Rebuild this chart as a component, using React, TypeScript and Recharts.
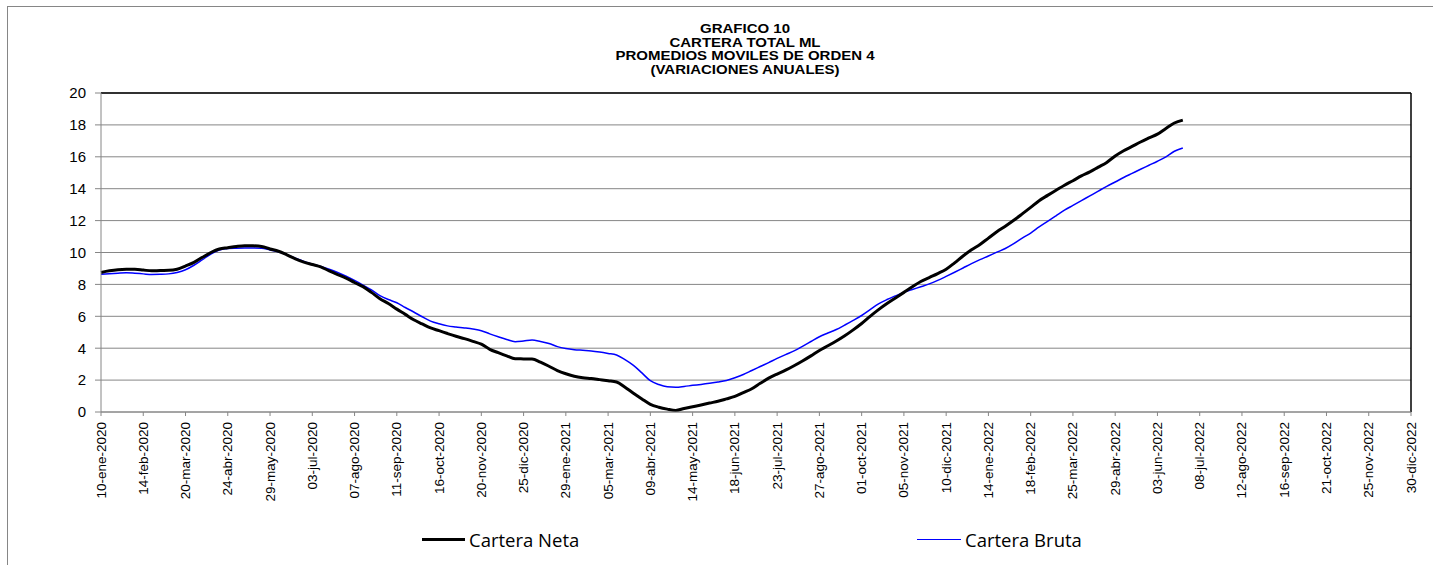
import React from "react";
import { CartesianGrid, Line, LineChart, ReferenceLine, XAxis, YAxis } from "recharts";

// weekly observations, starting 10-ene-2020
const neta = [
  8.75, 8.85, 8.92, 8.95, 8.95, 8.9, 8.85, 8.87, 8.88, 8.95,
  9.15, 9.38, 9.7, 10.0, 10.22, 10.3, 10.38, 10.43, 10.42, 10.38,
  10.22, 10.08, 9.85, 9.6, 9.4, 9.25, 9.1, 8.85, 8.62, 8.4,
  8.12, 7.86, 7.5, 7.1, 6.8, 6.45, 6.12, 5.78, 5.52, 5.27,
  5.1, 4.92, 4.75, 4.6, 4.43, 4.25, 3.93, 3.72, 3.52, 3.34,
  3.33, 3.32, 3.12, 2.87, 2.6, 2.4, 2.24, 2.15, 2.1, 2.03,
  1.96, 1.88, 1.55, 1.18, 0.82, 0.48, 0.3, 0.18, 0.1, 0.22,
  0.33, 0.44, 0.56, 0.67, 0.82, 0.98, 1.22, 1.46, 1.8, 2.12,
  2.38, 2.62, 2.9, 3.2, 3.52, 3.86, 4.15, 4.45, 4.78, 5.15,
  5.55, 6.0, 6.42, 6.8, 7.15, 7.5, 7.85, 8.18, 8.43, 8.68,
  8.95, 9.35, 9.78, 10.17, 10.5, 10.9, 11.3, 11.65, 12.02, 12.42,
  12.83, 13.25, 13.58, 13.9, 14.22, 14.5, 14.8, 15.05, 15.35, 15.65,
  16.05, 16.38, 16.65, 16.93, 17.18, 17.42, 17.78, 18.12, 18.3,
];

const bruta = [
  8.63, 8.66, 8.7, 8.73, 8.7, 8.66, 8.62, 8.63, 8.66, 8.75,
  8.92, 9.2, 9.55, 9.9, 10.15, 10.25, 10.27, 10.28, 10.28, 10.26,
  10.16, 10.05, 9.85, 9.64, 9.44, 9.27, 9.12, 8.95, 8.75, 8.52,
  8.25, 7.96, 7.65, 7.3, 7.05, 6.85, 6.55, 6.27, 5.97, 5.7,
  5.53, 5.4, 5.33, 5.27, 5.2, 5.1, 4.9, 4.72, 4.55, 4.41,
  4.45, 4.51, 4.42, 4.3, 4.1, 3.98, 3.91, 3.87, 3.83, 3.76,
  3.67, 3.57, 3.28, 2.92, 2.45, 1.96, 1.72, 1.58, 1.55, 1.6,
  1.67, 1.73, 1.8, 1.88, 1.98, 2.15, 2.35, 2.6, 2.85, 3.1,
  3.36, 3.6, 3.83, 4.12, 4.42, 4.72, 4.95, 5.17, 5.45, 5.74,
  6.05, 6.42, 6.78, 7.05, 7.28, 7.5, 7.68, 7.85, 8.03, 8.25,
  8.5, 8.76, 9.03, 9.3, 9.55, 9.78, 10.02, 10.25, 10.55, 10.9,
  11.22, 11.6, 11.95, 12.3, 12.65, 12.95, 13.25, 13.55, 13.85, 14.15,
  14.42, 14.7, 14.96, 15.22, 15.47, 15.72, 16.0, 16.35, 16.55,
];

// one label every 5 weeks
const tickLabels = [
  "10-ene-2020", "14-feb-2020", "20-mar-2020", "24-abr-2020", "29-may-2020", "03-jul-2020",
  "07-ago-2020", "11-sep-2020", "16-oct-2020", "20-nov-2020", "25-dic-2020", "29-ene-2021",
  "05-mar-2021", "09-abr-2021", "14-may-2021", "18-jun-2021", "23-jul-2021", "27-ago-2021",
  "01-oct-2021", "05-nov-2021", "10-dic-2021", "14-ene-2022", "18-feb-2022", "25-mar-2022",
  "29-abr-2022", "03-jun-2022", "08-jul-2022", "12-ago-2022", "16-sep-2022", "21-oct-2022",
  "25-nov-2022", "30-dic-2022",
];

const yTicks = [0, 2, 4, 6, 8, 10, 12, 14, 16, 18, 20];
const titleLines = ["GRAFICO 10", "CARTERA TOTAL ML", "PROMEDIOS MOVILES DE ORDEN 4", "(VARIACIONES ANUALES)"];

const WEEKS_PER_TICK = 5;
const lastWeek = (tickLabels.length - 1) * WEEKS_PER_TICK;
const xTicks = tickLabels.map((_, k) => k * WEEKS_PER_TICK);

const data = neta.map((v, i) => ({ week: i, neta: v, bruta: bruta[i] }));

const AXIS_GRAY = "#868686";
const FONT = "'Liberation Sans', Arial, sans-serif";

const XTick = (props: any) => {
  const { x, y, payload } = props;
  const y0 = y + 4;
  return (
    <text
      x={x}
      y={y0}
      transform={`rotate(-90 ${x} ${y0})`}
      textAnchor="end"
      dominantBaseline="central"
      fontSize={13.5}
      fontFamily={FONT}
      fill="#000"
    >
      {tickLabels[Math.round(payload.value / WEEKS_PER_TICK)]}
    </text>
  );
};

export default function App() {
  return (
    <div style={{ position: "absolute", left: 0, top: 0, width: 1433, height: 565, background: "#fff", overflow: "hidden" }}>
      <div style={{ position: "absolute", left: 7, top: 6, width: 1440, height: 580, border: `1px solid ${AXIS_GRAY}` }} />
      <div
        style={{
          position: "absolute",
          left: 545,
          top: 23,
          width: 400,
          textAlign: "center",
          fontFamily: FONT,
          fontWeight: "bold",
          fontSize: 12.5,
          lineHeight: "13.6px",
          transform: "scaleX(1.2)",
        }}
      >
        {titleLines.map((t) => (
          <div key={t}>{t}</div>
        ))}
      </div>

      <div style={{ position: "absolute", left: 0, top: 0 }}>
        <LineChart width={1433} height={565} data={data} margin={{ top: 93, right: 22, left: 41, bottom: 73 }}>
          <CartesianGrid vertical={false} stroke={AXIS_GRAY} strokeWidth={1} />
          <XAxis
            dataKey="week"
            type="number"
            domain={[0, lastWeek]}
            ticks={xTicks}
            interval={0}
            height={80}
            tickSize={4}
            stroke={AXIS_GRAY}
            tick={<XTick />}
          />
          <YAxis
            domain={[0, 20]}
            ticks={yTicks}
            width={60}
            tickSize={6}
            tickMargin={9}
            stroke={AXIS_GRAY}
            tick={{ fontSize: 15, fill: "#000", fontFamily: FONT }}
          />
          <ReferenceLine y={20} stroke="#000" strokeWidth={1.5} />
          <ReferenceLine x={lastWeek} stroke="#000" strokeWidth={1.5} />
          <Line
            type="monotone"
            dataKey="bruta"
            stroke="#0000ff"
            strokeWidth={1.5}
            dot={false}
            isAnimationActive={false}
          />
          <Line
            type="monotone"
            dataKey="neta"
            stroke="#000"
            strokeWidth={3}
            dot={false}
            isAnimationActive={false}
          />
        </LineChart>
      </div>

      <div style={{ position: "absolute", left: 422, top: 527, display: "flex", alignItems: "center", fontFamily: "'Open Sans', sans-serif", fontSize: 18.5 }}>
        <div style={{ width: 43, height: 3, background: "#000", marginRight: 4 }} />
        <span>Cartera Neta</span>
      </div>
      <div style={{ position: "absolute", left: 917, top: 527, display: "flex", alignItems: "center", fontFamily: "'Open Sans', sans-serif", fontSize: 18.5 }}>
        <div style={{ width: 44, height: 1.5, background: "#0000ff", marginRight: 4 }} />
        <span>Cartera Bruta</span>
      </div>
    </div>
  );
}
